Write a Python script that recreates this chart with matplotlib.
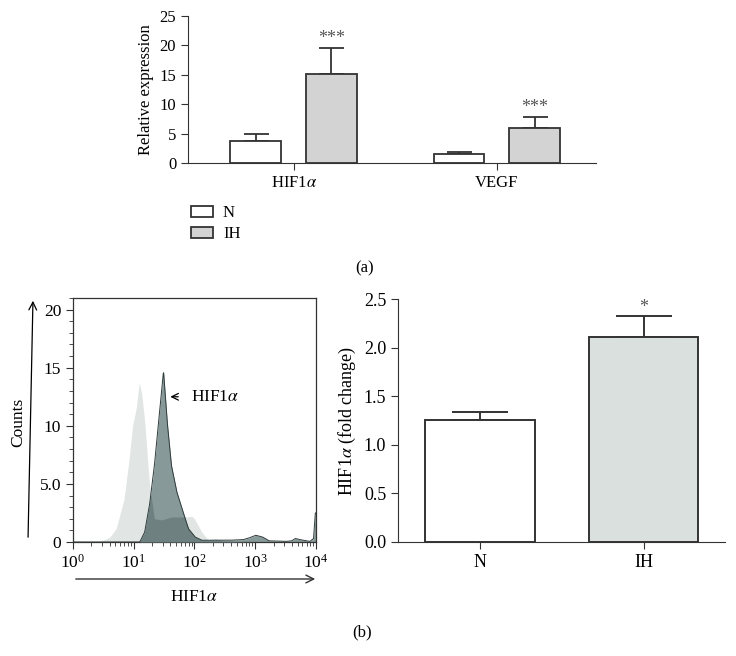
import numpy as np
import matplotlib
matplotlib.use("Agg")
import matplotlib.pyplot as plt
from matplotlib.ticker import MultipleLocator, LogLocator, LogFormatterMathtext, NullFormatter

plt.rcParams['font.family'] = ['Liberation Serif', 'DejaVu Serif']
plt.rcParams['mathtext.fontset'] = 'stix'
plt.rcParams['font.size'] = 12

# panel (a): qPCR relative expression
genes = ['HIF1$\\alpha$', 'VEGF']
rel_n = [3.7, 1.5]
rel_n_err = [1.2, 0.4]
rel_ih = [15.2, 5.9]
rel_ih_err = [4.3, 1.9]

# panel (b) left: flow histogram, x as log10 of intensity
ctrl_logx = [0.3, 0.45, 0.6, 0.71, 0.84, 0.92, 0.98, 1.04, 1.09, 1.13, 1.18, 1.26, 1.34, 1.46,
             1.62, 1.8, 1.96, 2.0, 2.12, 2.23, 2.34, 2.45, 2.6, 3.0, 4.0]
ctrl_counts = [0.0, 0.05, 0.4, 1.15, 3.7, 7.0, 10.0, 11.5, 13.7, 12.8, 10.4, 4.9, 2.0, 1.9,
               2.15, 2.15, 2.2, 2.0, 0.86, 0.15, 0.3, 0.1, 0.05, 0.0, 0.0]
hif_logx = [0.3, 1.1, 1.18, 1.26, 1.34, 1.43, 1.49, 1.55, 1.62, 1.71, 1.82, 1.9, 2.01, 2.12,
            2.4, 2.57, 2.8, 2.9, 3.01, 3.12, 3.23, 3.5, 3.6, 3.66, 3.74, 3.9, 3.96, 3.99, 4.0]
hif_counts = [0.0, 0.0, 0.86, 3.2, 6.6, 11.5, 14.7, 10.4, 6.6, 4.3, 2.45, 1.15, 0.43, 0.15,
              0.15, 0.15, 0.2, 0.35, 0.58, 0.43, 0.1, 0.05, 0.1, 0.3, 0.2, 0.05, 0.3, 2.5, 2.5]

# panel (b) right: fold change
groups = ['N', 'IH']
fold = [1.25, 2.11]
fold_err = [0.09, 0.22]

edge = '#333333'
fig = plt.figure(figsize=(7.36, 6.56), dpi=100)

# ---- (a) ----
ax1 = fig.add_axes([0.2554, 0.7515, 0.555, 0.2241])
xg = np.arange(len(genes))
w = 0.25
off = 0.186
ax1.bar(xg - off, rel_n, w, color='white', edgecolor=edge, linewidth=1.3, label='N', zorder=3)
ax1.bar(xg + off, rel_ih, w, color='#d3d3d3', edgecolor=edge, linewidth=1.3, label='IH', zorder=3)
ax1.errorbar(xg - off, rel_n, yerr=[np.zeros(2), rel_n_err], fmt='none', ecolor=edge,
             elinewidth=1.3, capsize=9, capthick=1.3, zorder=2)
ax1.errorbar(xg + off, rel_ih, yerr=[np.zeros(2), rel_ih_err], fmt='none', ecolor=edge,
             elinewidth=1.3, capsize=9, capthick=1.3, zorder=2)
for i in range(len(genes)):
    ax1.text(xg[i] + off, rel_ih[i] + rel_ih_err[i] + 1.6, '***', ha='center', va='center',
             color='#555555', fontsize=13)
ax1.set_xlim(-0.52, 1.49)
ax1.set_ylim(0, 25)
ax1.set_xticks(xg)
ax1.set_xticklabels(genes, fontsize=12)
ax1.yaxis.set_major_locator(MultipleLocator(5))
ax1.set_ylabel('Relative expression', fontsize=12)
for s in ['top', 'right']:
    ax1.spines[s].set_visible(False)
for s in ['left', 'bottom']:
    ax1.spines[s].set_color(edge)
ax1.tick_params(direction='out', length=5, color=edge, labelsize=12)
ax1.legend(loc='upper left', bbox_to_anchor=(188 / 736, 1 - 202 / 656), bbox_transform=fig.transFigure,
           frameon=False, fontsize=12, handlelength=1.3, handleheight=0.6, labelspacing=0.3,
           handletextpad=0.6, borderaxespad=0, borderpad=0.2)
fig.text(365 / 736, 1 - 268 / 656, '(a)', ha='center', va='center', fontsize=12)

# ---- (b) histogram ----
ax2 = fig.add_axes([0.0992, 0.1738, 0.3301, 0.3719])
xs = np.linspace(0, 4, 800)
c_light = np.interp(xs, ctrl_logx, ctrl_counts)
c_dark = np.interp(xs, hif_logx, hif_counts)
ax2.fill_between(10 ** xs, 0, c_light, color='#e1e6e5', linewidth=0, zorder=1)
ax2.fill_between(10 ** xs, 0, c_dark, color='#879a99', linewidth=0, zorder=2)
ax2.fill_between(10 ** xs, 0, np.minimum(c_light, c_dark), color='#6e8180', linewidth=0, zorder=3)
ax2.plot(10 ** xs, c_dark, color='#2e3b3a', linewidth=0.7, zorder=4)
ax2.set_xscale('log')
ax2.set_xlim(1, 1e4)
ax2.set_ylim(0, 21)
ax2.xaxis.set_major_locator(LogLocator(base=10, numticks=10))
ax2.xaxis.set_minor_locator(LogLocator(base=10, subs=np.arange(2, 10), numticks=20))
ax2.xaxis.set_major_formatter(LogFormatterMathtext())
ax2.xaxis.set_minor_formatter(NullFormatter())
ax2.set_yticks([0, 5, 10, 15, 20])
ax2.set_yticklabels(['0', '5.0', '10', '15', '20'])
ax2.yaxis.set_minor_locator(MultipleLocator(1))
ax2.tick_params(which='major', direction='out', length=5, color=edge, labelsize=12.5)
ax2.tick_params(which='minor', direction='out', length=3, color=edge)
for s in ax2.spines.values():
    s.set_color(edge)
    s.set_linewidth(0.9)
ax2.annotate('', xy=(36, 12.5), xytext=(60, 12.5),
             arrowprops=dict(arrowstyle='->', color='black', lw=0.9))
ax2.text(88, 12.5, 'HIF1$\\alpha$', ha='left', va='center', fontsize=12.5)
# axis arrows drawn in figure coordinates
fig.patches.append(matplotlib.patches.FancyArrowPatch(
    (28 / 736, 1 - 540 / 656), (33 / 736, 1 - 298 / 656), transform=fig.transFigure,
    arrowstyle='->', mutation_scale=14, color='black', lw=0.9))
fig.patches.append(matplotlib.patches.FancyArrowPatch(
    (73 / 736, 1 - 579 / 656), (318 / 736, 1 - 579 / 656), transform=fig.transFigure,
    arrowstyle='->', mutation_scale=14, color='#333333', lw=1.0))
fig.text(18 / 736, 1 - 422 / 656, 'Counts', rotation=90, ha='center', va='center', fontsize=12.5)
fig.text(194 / 736, 1 - 597 / 656, 'HIF1$\\alpha$', ha='center', va='center', fontsize=12.5)

# ---- (b) fold change ----
ax3 = fig.add_axes([0.5408, 0.1738, 0.4442, 0.3704])
xb = np.arange(len(groups))
ax3.bar(xb, fold, 0.665, color=['white', '#d9e0de'], edgecolor=edge, linewidth=1.4, zorder=3)
ax3.errorbar(xb, fold, yerr=[np.zeros(2), fold_err], fmt='none', ecolor=edge,
             elinewidth=1.4, capsize=20, capthick=1.4, zorder=2)
ax3.text(xb[1], fold[1] + fold_err[1] + 0.08, '*', ha='center', va='center',
         color='#555555', fontsize=13)
ax3.set_xlim(-0.5, 1.494)
ax3.set_ylim(0, 2.5)
ax3.set_xticks(xb)
ax3.set_xticklabels(groups)
ax3.yaxis.set_major_locator(MultipleLocator(0.5))
ax3.yaxis.set_major_formatter(matplotlib.ticker.FormatStrFormatter('%.1f'))
ax3.set_ylabel('HIF1$\\alpha$ (fold change)', fontsize=13)
for s in ['top', 'right']:
    ax3.spines[s].set_visible(False)
for s in ['left', 'bottom']:
    ax3.spines[s].set_color(edge)
ax3.tick_params(direction='out', length=5, color=edge, labelsize=13)
fig.text(362 / 736, 1 - 632 / 656, '(b)', ha='center', va='center', fontsize=12)

fig.savefig('out.png', dpi=100)
